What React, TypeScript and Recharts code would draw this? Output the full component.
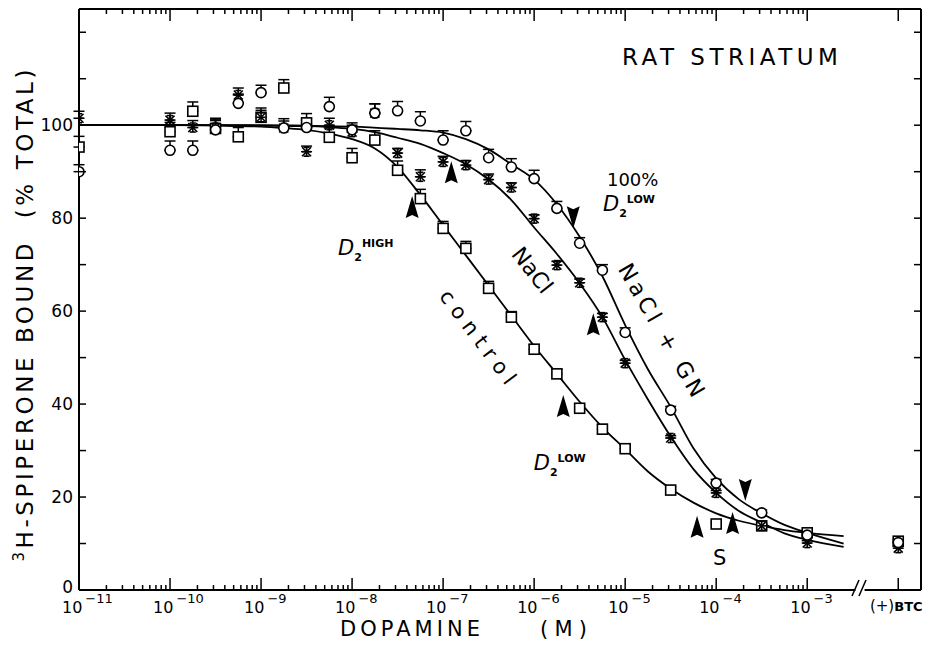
import React from "react";
import { ComposedChart, Line, Scatter, XAxis, YAxis, ErrorBar, ReferenceDot, ReferenceLine } from "recharts";

// x = log10 [dopamine] (M); -2 is the (+)BTC lane after the axis break
// e = [lower, upper] error (only upper bars drawn in the original)
const controlPts = [
  { x: -11, y: 95.3, e: [0, 2.3] }, { x: -10, y: 98.6, e: [0, 2] }, { x: -9.75, y: 103, e: [0, 2] },
  { x: -9.5, y: 99.3, e: [0, 2] }, { x: -9.25, y: 97.5, e: [0, 2] }, { x: -9, y: 101.7, e: [0, 2] },
  { x: -8.75, y: 108, e: [0, 1.8] }, { x: -8.5, y: 100.5, e: [0, 2] }, { x: -8.25, y: 97.4, e: [0, 2] },
  { x: -8, y: 93, e: [0, 2] }, { x: -7.75, y: 96.8, e: [0, 2] }, { x: -7.5, y: 90.3, e: [0, 2] },
  { x: -7.25, y: 84.2, e: [0, 2] }, { x: -7, y: 77.8, e: [0, 1.5] }, { x: -6.75, y: 73.5, e: [0, 1.5] },
  { x: -6.5, y: 64.9, e: [0, 1.5] }, { x: -6.25, y: 58.7, e: [0, 1.2] }, { x: -6, y: 51.8, e: [0, 1] },
  { x: -5.75, y: 46.5, e: [0, 1] }, { x: -5.5, y: 39.1, e: [0, 0.8] }, { x: -5.25, y: 34.6, e: [0, 1] },
  { x: -5, y: 30.4, e: [0, 0.8] }, { x: -4.5, y: 21.5, e: [0, 0.6] }, { x: -4, y: 14.2, e: [0, 0.5] },
  { x: -3.5, y: 13.8, e: [0, 0.5] }, { x: -3, y: 12.3, e: [0, 0.5] }, { x: -2, y: 10.5, e: [0, 0.5] },
];

const naclPts = [
  { x: -11, y: 101.5, e: [0, 1.5] }, { x: -10, y: 101.1, e: [0, 1.5] }, { x: -9.75, y: 99.5, e: [0, 1.5] },
  { x: -9.5, y: 99.5, e: [0, 2] }, { x: -9.25, y: 106.5, e: [0, 1.5] }, { x: -9, y: 101.7, e: [0, 1.5] },
  { x: -8.75, y: 99.4, e: [0, 1.5] }, { x: -8.5, y: 94.3, e: [0, 1.2] }, { x: -8.25, y: 100, e: [0, 1.5] },
  { x: -8, y: 98.5, e: [0, 1.5] }, { x: -7.75, y: 102.6, e: [0, 2] }, { x: -7.5, y: 94, e: [0, 1] },
  { x: -7.25, y: 88.9, e: [0, 1.5] }, { x: -7, y: 92.1, e: [0, 1.2] }, { x: -6.75, y: 91.4, e: [0, 1] },
  { x: -6.5, y: 88.3, e: [0, 1.2] }, { x: -6.25, y: 86.6, e: [0, 1] }, { x: -6, y: 79.9, e: [0, 0.8] },
  { x: -5.75, y: 69.9, e: [0, 0.8] }, { x: -5.5, y: 66.1, e: [0, 0.8] }, { x: -5.25, y: 58.7, e: [0, 0.8] },
  { x: -5, y: 48.8, e: [0, 0.6] }, { x: -4.5, y: 32.7, e: [0, 0.5] }, { x: -4, y: 20.9, e: [0, 0.5] },
  { x: -3.5, y: 13.8, e: [0, 0.5] }, { x: -3, y: 10.1, e: [0, 0.5] }, { x: -2, y: 9, e: [0, 0.5] },
];

const gnPts = [
  { x: -11, y: 90, e: [0, 1.5] }, { x: -10, y: 94.6, e: [0, 2] }, { x: -9.75, y: 94.6, e: [0, 2] },
  { x: -9.5, y: 99, e: [0, 2] }, { x: -9.25, y: 104.7, e: [0, 2] }, { x: -9, y: 107, e: [0, 1.6] },
  { x: -8.75, y: 99.4, e: [0, 2] }, { x: -8.5, y: 99.5, e: [0, 2] }, { x: -8.25, y: 104, e: [0, 2] },
  { x: -8, y: 99, e: [0, 1.5] }, { x: -7.75, y: 102.6, e: [0, 2] }, { x: -7.5, y: 103.1, e: [0, 2] },
  { x: -7.25, y: 100.9, e: [0, 2] }, { x: -7, y: 96.8, e: [0, 2] }, { x: -6.75, y: 98.8, e: [0, 2] },
  { x: -6.5, y: 93, e: [0, 1.8] }, { x: -6.25, y: 91, e: [0, 1.8] }, { x: -6, y: 88.5, e: [0, 1.8] },
  { x: -5.75, y: 82.1, e: [0, 1.5] }, { x: -5.5, y: 74.6, e: [0, 1.2] }, { x: -5.25, y: 68.8, e: [0, 1.2] },
  { x: -5, y: 55.4, e: [0, 1] }, { x: -4.5, y: 38.7, e: [0, 0.8] }, { x: -4, y: 23, e: [0, 0.8] },
  { x: -3.5, y: 16.6, e: [0, 0.6] }, { x: -3, y: 11.8, e: [0, 0.6] }, { x: -2, y: 10.2, e: [0, 0.5] },
];

// fitted curves
const controlCurve = [
  { x: -11, y: 100 }, { x: -10, y: 100 }, { x: -9.5, y: 99.9 }, { x: -9, y: 99.7 }, { x: -8.75, y: 99.4 },
  { x: -8.5, y: 99 }, { x: -8.25, y: 98.2 }, { x: -8, y: 97 }, { x: -7.75, y: 95 }, { x: -7.5, y: 91 },
  { x: -7.25, y: 85 }, { x: -7, y: 78.5 }, { x: -6.75, y: 72 }, { x: -6.5, y: 65.5 }, { x: -6.25, y: 59 },
  { x: -6, y: 52.5 }, { x: -5.75, y: 46.5 }, { x: -5.5, y: 40.5 }, { x: -5.25, y: 35 }, { x: -5, y: 30.3 },
  { x: -4.75, y: 25.5 }, { x: -4.5, y: 21.8 }, { x: -4.25, y: 18.8 }, { x: -4, y: 16.5 }, { x: -3.75, y: 14.9 },
  { x: -3.5, y: 13.8 }, { x: -3.25, y: 12.9 }, { x: -3, y: 12.3 }, { x: -2.6, y: 11.6 },
];

const naclCurve = [
  { x: -11, y: 100 }, { x: -10, y: 100 }, { x: -9.5, y: 100 }, { x: -9, y: 99.9 }, { x: -8.5, y: 99.8 },
  { x: -8.25, y: 99.6 }, { x: -8, y: 99.2 }, { x: -7.75, y: 98.5 }, { x: -7.5, y: 97.3 }, { x: -7.25, y: 96 },
  { x: -7, y: 94 }, { x: -6.75, y: 91.6 }, { x: -6.5, y: 88.3 }, { x: -6.25, y: 83.9 }, { x: -6, y: 78 },
  { x: -5.75, y: 72.3 }, { x: -5.5, y: 66 }, { x: -5.25, y: 58.7 }, { x: -5, y: 49.5 }, { x: -4.75, y: 41 },
  { x: -4.5, y: 33 }, { x: -4.25, y: 26 }, { x: -4, y: 20.9 }, { x: -3.75, y: 17 }, { x: -3.5, y: 14.5 },
  { x: -3.25, y: 12.2 }, { x: -3, y: 10.8 }, { x: -2.6, y: 9.3 },
];

const gnCurve = [
  { x: -11, y: 100 }, { x: -9, y: 100 }, { x: -8.5, y: 99.9 }, { x: -8, y: 99.7 }, { x: -7.5, y: 99.2 },
  { x: -7.25, y: 98.9 }, { x: -7, y: 98.4 }, { x: -6.75, y: 97 }, { x: -6.5, y: 94.8 }, { x: -6.25, y: 91.6 },
  { x: -6, y: 88.3 }, { x: -5.75, y: 83 }, { x: -5.5, y: 76 }, { x: -5.25, y: 67.5 }, { x: -5, y: 57 },
  { x: -4.75, y: 47.5 }, { x: -4.5, y: 39.4 }, { x: -4.25, y: 30.5 }, { x: -4, y: 24 }, { x: -3.75, y: 19.5 },
  { x: -3.5, y: 16.5 }, { x: -3.25, y: 14 }, { x: -3, y: 12.3 }, { x: -2.6, y: 10 },
];

// arrowheads marking the high/low affinity states
const arrowsUp = [
  { x: -7.34, y: 82.4 }, { x: -6.91, y: 89.9 }, { x: -5.68, y: 39.6 },
  { x: -5.35, y: 57.2 }, { x: -4.21, y: 13.6 }, { x: -3.82, y: 14.4 },
];
const arrowsDown = [{ x: -5.57, y: 80.2 }, { x: -3.68, y: 21.5 }];

const decades = [-11, -10, -9, -8, -7, -6, -5, -4, -3];
const minorSteps = [2, 3, 4, 5, 6, 7, 8, 9];
const BTC = -2;
const xTicks = [
  ...decades,
  ...decades.slice(0, -1).flatMap((d) => minorSteps.map((m) => d + Math.log10(m))),
  BTC,
];
const yTicks = [0, 10, 20, 30, 40, 50, 60, 70, 80, 90, 100, 110, 120];
const yLabels = [0, 20, 40, 60, 80, 100];

const FONT = "'DejaVu Sans', 'Liberation Sans', sans-serif";

const BottomTick = (props: any) => {
  const { x, y, payload } = props;
  const v = payload.value;
  const major = Number.isInteger(v);
  const len = major ? 12 : 5;
  return (
    <g>
      <line x1={x} y1={y} x2={x} y2={y - len} stroke="#000" strokeWidth={1.5} />
      {v === BTC ? (
        <text x={x - 2} y={y + 21} textAnchor="middle" fontFamily={FONT} fontSize={15} fill="#000">
          (+)<tspan fontWeight="bold" fontSize={13}>BTC</tspan>
        </text>
      ) : major ? (
        <text x={x - 17} y={y + 23} fontFamily={FONT} fontSize={16} fill="#000">
          10
          <tspan fontSize={13} dx={3} dy={-10}>{"\u2212" + Math.abs(v)}</tspan>
        </text>
      ) : null}
    </g>
  );
};

const TopTick = (props: any) => {
  const { x, y, payload } = props;
  const len = Number.isInteger(payload.value) ? 12 : 5;
  return <line x1={x} y1={y} x2={x} y2={y + len} stroke="#000" strokeWidth={1.5} />;
};

const LeftTick = (props: any) => {
  const { x, y, payload } = props;
  const v = payload.value;
  return (
    <g>
      <line x1={x} y1={y} x2={x + 7} y2={y} stroke="#000" strokeWidth={1.5} />
      {yLabels.includes(v) && (
        <text x={x - 6} y={v === 0 ? y + 3 : y + 6} textAnchor="end" fontFamily={FONT} fontSize={17} fill="#000">
          {v}
        </text>
      )}
    </g>
  );
};

const RightTick = (props: any) => {
  const { x, y } = props;
  return <line x1={x} y1={y} x2={x - 7} y2={y} stroke="#000" strokeWidth={1.5} />;
};

const YTitle = (props: any) => {
  const vb = props.viewBox;
  const cx = vb.x + 33;
  const cy = vb.y + vb.height / 2 + 16;
  return (
    <text
      transform={`rotate(-90 ${cx} ${cy})`}
      x={cx}
      y={cy}
      textAnchor="middle"
      fontFamily={FONT}
      fontSize={23}
      fill="#000"
      textLength={492}
      lengthAdjust="spacing"
      style={{ whiteSpace: "pre" }}
    >
      <tspan fontSize={15} dy={-9}>3</tspan>
      <tspan dy={9}>H-SPIPERONE BOUND  (% TOTAL)</tspan>
    </text>
  );
};

const XTitle = (props: any) => {
  const vb = props.viewBox;
  const base = vb.y + 46;
  return (
    <g fontFamily={FONT} fontSize={21} fill="#000">
      <text x={340} y={base} textLength={140} lengthAdjust="spacing">DOPAMINE</text>
      <text x={540} y={base} textLength={47} lengthAdjust="spacing">(M)</text>
    </g>
  );
};

const NoMark = () => <g />;
const SquareMark = (p: any) => (
  <rect x={p.cx - 5} y={p.cy - 5} width={10} height={10} fill="#fff" stroke="#000" strokeWidth={1.6} />
);
const CircleMark = (p: any) => <circle cx={p.cx} cy={p.cy} r={5} fill="#fff" stroke="#000" strokeWidth={1.6} />;
const StarMark = (p: any) => {
  const { cx, cy } = p;
  const r = 4.5;
  return (
    <g stroke="#000" strokeWidth={1.6}>
      <line x1={cx - r} y1={cy - r} x2={cx + r} y2={cy + r} />
      <line x1={cx - r} y1={cy + r} x2={cx + r} y2={cy - r} />
      <line x1={cx} y1={cy - r} x2={cx} y2={cy + r} />
      <line x1={cx - r} y1={cy} x2={cx + r} y2={cy} />
      <line x1={cx - 3} y1={cy - r} x2={cx + 3} y2={cy - r} />
      <line x1={cx - 3} y1={cy + r} x2={cx + 3} y2={cy + r} />
    </g>
  );
};
const UpArrow = (p: any) => (
  <polygon
    points={`${p.cx},${p.cy - 11} ${p.cx + 6.5},${p.cy + 11} ${p.cx},${p.cy + 8} ${p.cx - 6.5},${p.cy + 11}`}
    fill="#000"
  />
);
const DownArrow = (p: any) => (
  <polygon
    points={`${p.cx},${p.cy + 11} ${p.cx + 6.5},${p.cy - 11} ${p.cx},${p.cy - 8} ${p.cx - 6.5},${p.cy - 11}`}
    fill="#000"
  />
);

const plainText = (text: string, size: number, length?: number) => (p: any) => (
  <text
    x={p.cx}
    y={p.cy}
    fontFamily={FONT}
    fontSize={size}
    fill="#000"
    textLength={length}
    lengthAdjust="spacing"
  >
    {text}
  </text>
);

const rotatedText = (text: string, size: number, angle: number, length?: number) => (p: any) => (
  <text
    x={p.cx}
    y={p.cy}
    transform={`rotate(${angle} ${p.cx} ${p.cy})`}
    textAnchor="middle"
    dominantBaseline="central"
    fontFamily={FONT}
    fontSize={size}
    fill="#000"
    textLength={length}
    lengthAdjust="spacing"
    style={{ whiteSpace: "pre" }}
  >
    {text}
  </text>
);

// D with subscript 2 and a superscript state, laid out left to right so the parts do not collide
const d2Label = (sup: string) => (p: any) => (
  <text x={p.cx - 4} y={p.cy} fill="#000" fontFamily={FONT} fontSize={21}>
    <tspan fontStyle="italic">D</tspan>
    <tspan fontSize={11} fontWeight="bold" dy={6}>2</tspan>
    <tspan fontSize={11} fontWeight="bold" dy={-14}>{sup}</tspan>
  </text>
);

const AxisBreak = (p: any) => (
  <g stroke="#000" strokeWidth={1.5}>
    <line x1={p.cx - 8} y1={p.cy + 6} x2={p.cx - 1} y2={p.cy - 10} />
    <line x1={p.cx - 1} y1={p.cy + 6} x2={p.cx + 6} y2={p.cy - 10} />
  </g>
);

const series = [
  { name: "control", data: controlPts, shape: SquareMark },
  { name: "NaCl", data: naclPts, shape: StarMark },
  { name: "NaCl + GN", data: gnPts, shape: CircleMark },
];

export default function App() {
  return (
    <div style={{ position: "absolute", left: 0, top: 0, background: "#fff" }}>
      <ComposedChart width={930} height={649} margin={{ top: 8, right: 8, bottom: 0, left: 0 }}>
        <XAxis
          xAxisId="b"
          type="number"
          dataKey="x"
          domain={[-11, -1.75]}
          allowDataOverflow
          ticks={xTicks}
          interval={0}
          tickSize={0}
          tickMargin={0}
          tickLine={false}
          axisLine={false}
          tick={BottomTick}
          height={59}
          label={<XTitle />}
        />
        <XAxis
          xAxisId="t"
          orientation="top"
          type="number"
          dataKey="x"
          domain={[-11, -1.75]}
          allowDataOverflow
          ticks={xTicks}
          interval={0}
          tickSize={0}
          tickMargin={0}
          tickLine={false}
          axisLine={{ stroke: "#000", strokeWidth: 2 }}
          tick={TopTick}
          height={1}
        />
        <YAxis
          yAxisId="l"
          type="number"
          dataKey="y"
          domain={[0, 125]}
          allowDataOverflow
          ticks={yTicks}
          interval={0}
          tickSize={0}
          tickMargin={0}
          tickLine={false}
          axisLine={{ stroke: "#000", strokeWidth: 2 }}
          tick={LeftTick}
          width={79}
          label={<YTitle />}
        />
        <YAxis
          yAxisId="r"
          orientation="right"
          type="number"
          dataKey="y"
          domain={[0, 125]}
          allowDataOverflow
          ticks={yTicks}
          interval={0}
          tickSize={0}
          tickMargin={0}
          tickLine={false}
          axisLine={{ stroke: "#000", strokeWidth: 2 }}
          tick={RightTick}
          width={1}
        />

        <ReferenceLine
          xAxisId="b"
          yAxisId="l"
          segment={[{ x: -11, y: 0 }, { x: -2.47, y: 0 }]}
          stroke="#000"
          strokeWidth={2}
          ifOverflow="visible"
        />
        <ReferenceLine
          xAxisId="b"
          yAxisId="l"
          segment={[{ x: -2.37, y: 0 }, { x: -1.75, y: 0 }]}
          stroke="#000"
          strokeWidth={2}
          ifOverflow="visible"
        />
        <ReferenceDot xAxisId="b" yAxisId="l" x={-2.42} y={0} ifOverflow="visible" shape={AxisBreak} />

        <Line xAxisId="b" yAxisId="l" data={controlCurve} dataKey="y" type="monotone" stroke="#000" strokeWidth={1.8} dot={false} isAnimationActive={false} />
        <Line xAxisId="b" yAxisId="l" data={naclCurve} dataKey="y" type="monotone" stroke="#000" strokeWidth={1.8} dot={false} isAnimationActive={false} />
        <Line xAxisId="b" yAxisId="l" data={gnCurve} dataKey="y" type="monotone" stroke="#000" strokeWidth={1.8} dot={false} isAnimationActive={false} />

        {/* error bars first so the open markers sit on top of the bar roots; width is the half cap */}
        {series.map((s) => (
          <Scatter key={s.name + "-err"} xAxisId="b" yAxisId="l" data={s.data} shape={NoMark} isAnimationActive={false}>
            <ErrorBar dataKey="e" direction="y" width={5.5} stroke="#000" strokeWidth={1.5} />
          </Scatter>
        ))}
        {series.map((s) => (
          <Scatter key={s.name} xAxisId="b" yAxisId="l" name={s.name} data={s.data} shape={s.shape} isAnimationActive={false} />
        ))}
        <Scatter xAxisId="b" yAxisId="l" data={arrowsUp} shape={UpArrow} isAnimationActive={false} />
        <Scatter xAxisId="b" yAxisId="l" data={arrowsDown} shape={DownArrow} isAnimationActive={false} />

        <ReferenceDot xAxisId="b" yAxisId="l" x={-5.035} y={113} shape={plainText("RAT STRIATUM", 23, 216)} />
        <ReferenceDot xAxisId="b" yAxisId="l" x={-5.2} y={87} shape={plainText("100%", 18)} />
        <ReferenceDot xAxisId="b" yAxisId="l" x={-5.2} y={81.6} shape={d2Label("LOW")} />
        <ReferenceDot xAxisId="b" yAxisId="l" x={-8.11} y={72.1} shape={d2Label("HIGH")} />
        <ReferenceDot xAxisId="b" yAxisId="l" x={-5.96} y={25.8} shape={d2Label("LOW")} />
        <ReferenceDot xAxisId="b" yAxisId="l" x={-4.035} y={5.4} shape={plainText("S", 21)} />
        <ReferenceDot xAxisId="b" yAxisId="l" x={-6.02} y={68.8} shape={rotatedText("NaCl", 22, 52)} />
        <ReferenceDot xAxisId="b" yAxisId="l" x={-6.62} y={54.4} shape={rotatedText("control", 21, 53, 112)} />
        <ReferenceDot xAxisId="b" yAxisId="l" x={-4.6} y={55.9} shape={rotatedText("NaCl + GN", 22, 60, 150)} />
      </ComposedChart>
    </div>
  );
}
